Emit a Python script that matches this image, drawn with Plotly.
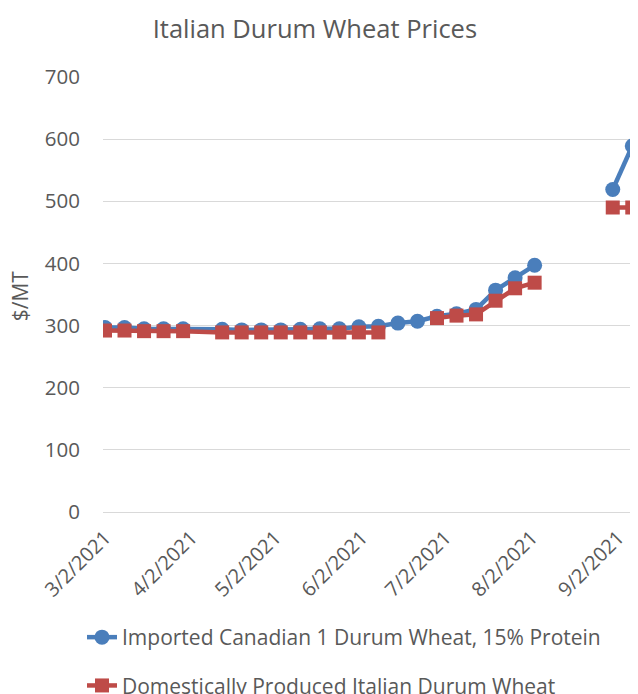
import plotly.graph_objects as go

# weekly observations (4/6 not reported; mid-August blank)
dates = [
    "2021-03-02", "2021-03-09", "2021-03-16", "2021-03-23", "2021-03-30",
    "2021-04-13", "2021-04-20", "2021-04-27", "2021-05-04", "2021-05-11",
    "2021-05-18", "2021-05-25", "2021-06-01", "2021-06-08", "2021-06-15",
    "2021-06-22", "2021-06-29", "2021-07-06", "2021-07-13", "2021-07-20",
    "2021-07-27", "2021-08-03", "2021-08-10", "2021-08-17", "2021-08-24",
    "2021-08-31", "2021-09-07",
]
canadian = [
    297, 297, 295, 295, 295,
    294, 293, 293, 293, 294,
    295, 295, 298, 299, 304,
    307, 315, 319, 326, 357,
    377, 397, None, None, None,
    519, 589,
]
italian = [
    292, 292, 291, 291, 291,
    289, 289, 289, 289, 289,
    289, 289, 289, 289, None,
    None, 312, 316, 318, 340,
    360, 369, None, None, None,
    490, 490,
]

tick_dates = ["2021-03-02", "2021-04-02", "2021-05-02", "2021-06-02",
              "2021-07-02", "2021-08-02", "2021-09-02"]
tick_labels = ["3/2/2021", "4/2/2021", "5/2/2021", "6/2/2021",
               "7/2/2021", "8/2/2021", "9/2/2021"]

y_ticks = [0, 100, 200, 300, 400, 500, 600, 700]

BLUE = "#4A7EBB"
RED = "#BE4B48"
TXT = "#595959"
GRID = "#D9D9D9"
FONT = "Open Sans"

fig = go.Figure()

fig.add_trace(go.Scatter(
    x=dates, y=canadian, mode="lines+markers",
    name="Imported Canadian 1 Durum Wheat, 15% Protein",
    legendgroup="a",
    line=dict(color=BLUE, width=4.5),
    marker=dict(symbol="circle", size=15, color=BLUE),
    connectgaps=False,
))
fig.add_trace(go.Scatter(
    x=dates, y=italian, mode="lines+markers",
    name="Domestically Produced Italian Durum Wheat",
    legendgroup="b",
    line=dict(color=RED, width=4.5),
    marker=dict(symbol="square", size=14, color=RED),
    connectgaps=False,
))

fig.update_xaxes(
    type="date",
    range=["2021-03-01 07:00", "2021-09-11 22:00"],
    tickmode="array", tickvals=tick_dates, ticktext=tick_labels,
    tickangle=-45,
    tickfont=dict(family=FONT, size=20, color=TXT),
    showgrid=False, showline=False, zeroline=False,
    ticks="", ticklabelstandoff=9,
    automargin=False,
)
fig.update_yaxes(
    range=[0, 700], tickmode="array", tickvals=y_ticks,
    tickfont=dict(family=FONT, size=20.5, color=TXT),
    showgrid=True, gridcolor=GRID, gridwidth=1.3,
    zeroline=True, zerolinecolor=GRID, zerolinewidth=1.3,
    showline=False, ticks="", ticklabelstandoff=22,
    automargin=False,
)

fig.add_annotation(
    text="$/MT", xref="paper", yref="paper", x=-0.153, y=0.498,
    xanchor="center", yanchor="middle", textangle=-90, showarrow=False,
    font=dict(family=FONT, size=21, color=TXT),
)

fig.update_layout(
    width=638, height=694,
    margin=dict(l=95, r=0, t=69, b=190, autoexpand=False),
    paper_bgcolor="white", plot_bgcolor="white",
    title=dict(text="Italian Durum Wheat Prices", x=0.481, xanchor="center",
               y=1 - 21 / 694, yanchor="middle", yref="container",
               font=dict(family=FONT, size=25.5, color=TXT)),
    showlegend=True,
    legend=dict(
        orientation="v", xref="container", yref="container",
        x=74 / 638, xanchor="left", y=1 - 609 / 694, yanchor="top",
        font=dict(family=FONT, size=21, color=TXT),
        tracegroupgap=18, bgcolor="rgba(0,0,0,0)",
    ),
    font=dict(family=FONT, color=TXT),
)

fig.write_html("out.html")
